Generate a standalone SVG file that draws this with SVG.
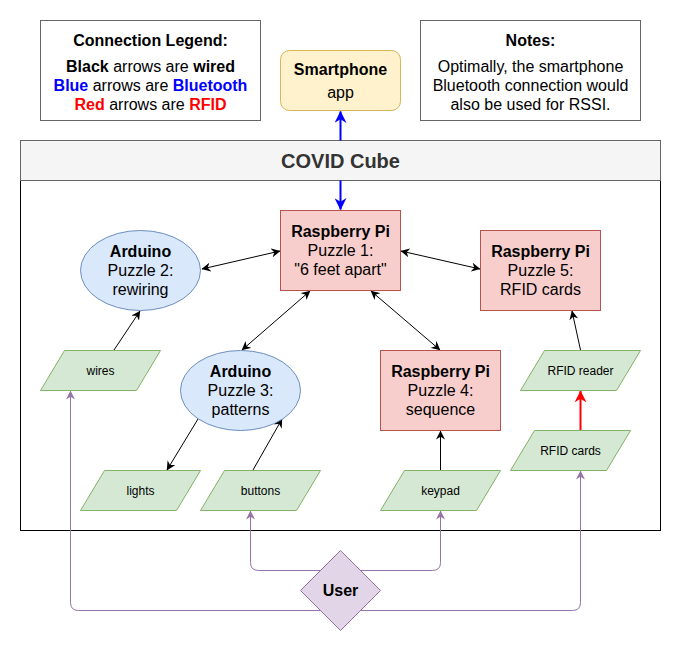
<svg xmlns="http://www.w3.org/2000/svg" width="681" height="651" viewBox="0 0 681 651">
<style>
text{font-family:"Liberation Sans",Arial,Helvetica,sans-serif;text-anchor:middle;fill:#000}
.t16{font-size:16px}
.t12{font-size:12px}
.b{font-weight:bold}
.note{fill:#fff;stroke:#666;stroke-width:1}
.pi{fill:#f8cecc;stroke:#b85450;stroke-width:1}
.ard{fill:#dae8fc;stroke:#6c8ebf;stroke-width:1}
.io{fill:#d5e8d4;stroke:#82b366;stroke-width:1}
.wire{fill:none;stroke:#000;stroke-width:1}
.bt{fill:none;stroke:#0000ff;stroke-width:2}
.rf{fill:none;stroke:#ff0000;stroke-width:2}
.usr{fill:none;stroke:#9673a6;stroke-width:1}
</style>
<defs>
<marker id="ak" viewBox="0 0 10 10" refX="9.5" refY="5" markerWidth="9" markerHeight="9" markerUnits="userSpaceOnUse" orient="auto-start-reverse"><path d="M10,5 L0,0 L3,5 L0,10 Z" fill="#000"/></marker>
<marker id="ab" viewBox="0 0 10 10" refX="9.5" refY="5" markerWidth="12" markerHeight="12" markerUnits="userSpaceOnUse" orient="auto-start-reverse"><path d="M10,5 L0,0 L3,5 L0,10 Z" fill="#0000ff"/></marker>
<marker id="ar" viewBox="0 0 10 10" refX="9.5" refY="5" markerWidth="12" markerHeight="12" markerUnits="userSpaceOnUse" orient="auto"><path d="M10,5 L0,0 L3,5 L0,10 Z" fill="#ff0000"/></marker>
<marker id="ap" viewBox="0 0 10 10" refX="9.5" refY="5" markerWidth="9" markerHeight="9" markerUnits="userSpaceOnUse" orient="auto"><path d="M10,5 L0,0 L3,5 L0,10 Z" fill="#9673a6"/></marker>
</defs>

<g id="legend">
<rect class="note" x="40.5" y="20.5" width="220" height="100"/>
<text class="t16 b" x="150.5" y="46">Connection Legend:</text>
<text class="t16" x="150.5" y="72"><tspan class="b">Black</tspan> arrows are <tspan class="b">wired</tspan></text>
<text class="t16" x="150.5" y="91"><tspan class="b" fill="#0000ff">Blue</tspan> arrows are <tspan class="b" fill="#0000ff">Bluetooth</tspan></text>
<text class="t16" x="150.5" y="110"><tspan class="b" fill="#ff0000">Red</tspan> arrows are <tspan class="b" fill="#ff0000">RFID</tspan></text>
</g>

<g id="notes">
<rect class="note" x="420.5" y="20.5" width="220" height="100"/>
<text class="t16 b" x="530.5" y="46">Notes:</text>
<text class="t16" x="530.5" y="72">Optimally, the smartphone</text>
<text class="t16" x="530.5" y="91">Bluetooth connection would</text>
<text class="t16" x="530.5" y="110">also be used for RSSI.</text>
</g>

<g id="smartphone">
<rect x="280.5" y="50.5" width="120" height="60" rx="9" fill="#fff2cc" stroke="#d6b656"/>
<text class="t16 b" x="340.5" y="75">Smartphone</text>
<text class="t16" x="340.5" y="98">app</text>
</g>

<g id="covid-cube">
<rect x="20.5" y="180.5" width="640" height="350" fill="#fff" stroke="#000"/>
<rect x="20.5" y="140.5" width="640" height="40" fill="#f5f5f5" stroke="#666"/>
<text class="b" x="340.5" y="167.5" style="font-size:20px;fill:#333">COVID Cube</text>
</g>

<g id="connectors">
<line class="bt" x1="340.5" y1="140.5" x2="340.5" y2="111.5" marker-end="url(#ab)"/>
<line class="bt" x1="340.5" y1="180.5" x2="340.5" y2="209.5" marker-end="url(#ab)"/>
<line class="wire" x1="280" y1="251" x2="202" y2="269" marker-start="url(#ak)" marker-end="url(#ak)"/>
<line class="wire" x1="401" y1="251" x2="480" y2="269" marker-start="url(#ak)" marker-end="url(#ak)"/>
<line class="wire" x1="310" y1="291" x2="242" y2="350" marker-start="url(#ak)" marker-end="url(#ak)"/>
<line class="wire" x1="371" y1="291" x2="440" y2="350" marker-start="url(#ak)" marker-end="url(#ak)"/>
<line class="wire" x1="114" y1="350" x2="140" y2="311" marker-end="url(#ak)"/>
<line class="wire" x1="580.5" y1="350" x2="572" y2="311" marker-end="url(#ak)"/>
<line class="wire" x1="198" y1="419" x2="167" y2="470" marker-end="url(#ak)"/>
<line class="wire" x1="253" y1="470" x2="282" y2="419" marker-end="url(#ak)"/>
<line class="wire" x1="440.5" y1="470.5" x2="440.5" y2="431" marker-end="url(#ak)"/>
<line class="rf" x1="580.5" y1="430.5" x2="580.5" y2="391" marker-end="url(#ar)"/>
<path class="usr" d="M320.5,570.5 H258.5 Q250.5,570.5 250.5,562.5 V511" marker-end="url(#ap)"/>
<path class="usr" d="M360.5,570.5 H432.5 Q440.5,570.5 440.5,562.5 V511" marker-end="url(#ap)"/>
<path class="usr" d="M320.5,610.5 H78.5 Q70.5,610.5 70.5,602.5 V391" marker-end="url(#ap)"/>
<path class="usr" d="M360.5,610.5 H572.5 Q580.5,610.5 580.5,602.5 V471" marker-end="url(#ap)"/>
</g>

<g id="pi1">
<rect class="pi" x="280.5" y="210.5" width="120" height="80"/>
<text class="t16 b" x="340.5" y="236.5">Raspberry Pi</text>
<text class="t16" x="340.5" y="255.5">Puzzle 1:</text>
<text class="t16" x="340.5" y="274.5">"6 feet apart"</text>
</g>

<g id="arduino2">
<ellipse class="ard" cx="140.5" cy="270.5" rx="60" ry="40"/>
<text class="t16 b" x="140.5" y="256.5">Arduino</text>
<text class="t16" x="140.5" y="275.5">Puzzle 2:</text>
<text class="t16" x="140.5" y="294.5">rewiring</text>
</g>

<g id="pi5">
<rect class="pi" x="480.5" y="230.5" width="120" height="80"/>
<text class="t16 b" x="540.5" y="256.5">Raspberry Pi</text>
<text class="t16" x="540.5" y="275.5">Puzzle 5:</text>
<text class="t16" x="540.5" y="294.5">RFID cards</text>
</g>

<g id="arduino3">
<ellipse class="ard" cx="240.5" cy="390.5" rx="60" ry="40"/>
<text class="t16 b" x="240.5" y="376.5">Arduino</text>
<text class="t16" x="240.5" y="395.5">Puzzle 3:</text>
<text class="t16" x="240.5" y="414.5">patterns</text>
</g>

<g id="pi4">
<rect class="pi" x="380.5" y="350.5" width="120" height="80"/>
<text class="t16 b" x="440.5" y="376.5">Raspberry Pi</text>
<text class="t16" x="440.5" y="395.5">Puzzle 4:</text>
<text class="t16" x="440.5" y="414.5">sequence</text>
</g>

<g id="wires">
<polygon class="io" points="64.5,350.5 160.5,350.5 136.5,390.5 40.5,390.5"/>
<text class="t12" x="100.5" y="375">wires</text>
</g>

<g id="rfid-reader">
<polygon class="io" points="544.5,350.5 640.5,350.5 616.5,390.5 520.5,390.5"/>
<text class="t12" x="580.5" y="375">RFID reader</text>
</g>

<g id="rfid-cards">
<polygon class="io" points="534.5,430.5 630.5,430.5 606.5,470.5 510.5,470.5"/>
<text class="t12" x="570.5" y="455">RFID cards</text>
</g>

<g id="lights">
<polygon class="io" points="104.5,470.5 200.5,470.5 176.5,510.5 80.5,510.5"/>
<text class="t12" x="140.5" y="495">lights</text>
</g>

<g id="buttons">
<polygon class="io" points="224.5,470.5 320.5,470.5 296.5,510.5 200.5,510.5"/>
<text class="t12" x="260.5" y="495">buttons</text>
</g>

<g id="keypad">
<polygon class="io" points="404.5,470.5 500.5,470.5 476.5,510.5 380.5,510.5"/>
<text class="t12" x="440.5" y="495">keypad</text>
</g>

<g id="user">
<polygon points="340.5,550.5 380.5,590.5 340.5,630.5 300.5,590.5" fill="#e1d5e7" stroke="#9673a6"/>
<text class="t16 b" x="340.5" y="596">User</text>
</g>
</svg>
